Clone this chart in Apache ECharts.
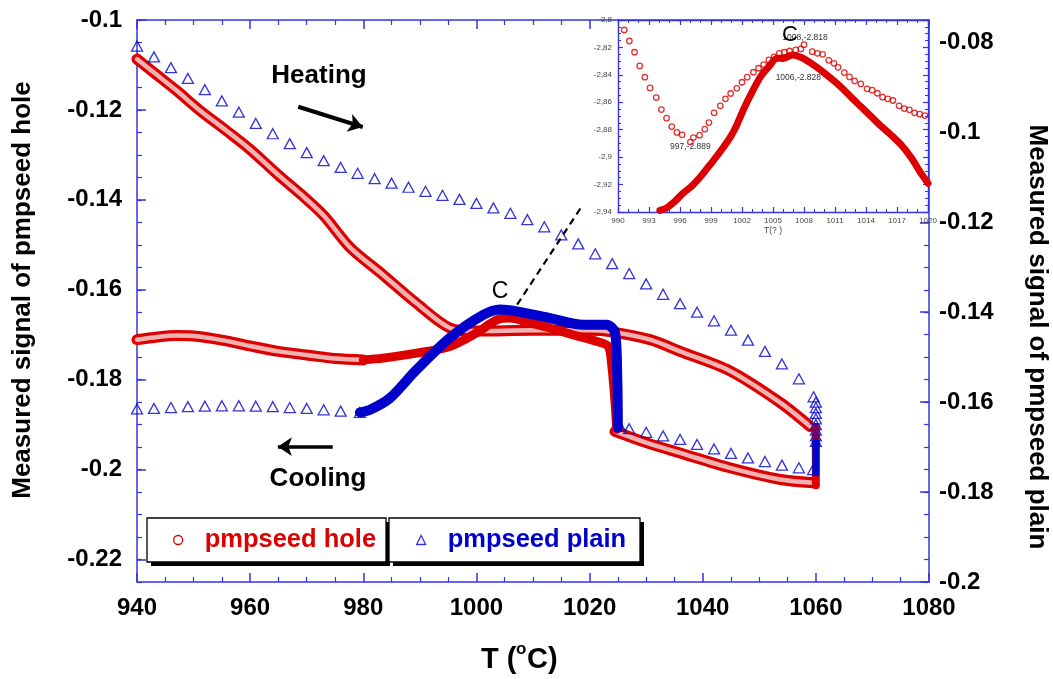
<!DOCTYPE html>
<html>
<head>
<meta charset="utf-8">
<title>pmpseed hole / pmpseed plain</title>
<script src="https://cdn.jsdelivr.net/npm/echarts@6/dist/echarts.min.js"></script>
<style>
  html, body { margin: 0; padding: 0; background: #fff; }
  #chart { width: 1053px; height: 679px; }
</style>
</head>
<body>
<div id="chart"></div>
<script>
// ---------- tick values ----------
const holeTicks  = [-0.22, -0.2, -0.18, -0.16, -0.14, -0.12, -0.1];
const plainTicks = [-0.2, -0.18, -0.16, -0.14, -0.12, -0.1, -0.08];

// ---------- pmpseed hole (left axis) ----------
// heating branch (open circles)
const holeHeatT = [940, 943, 947, 951, 956, 960, 965, 969, 973, 977.6, 983.5, 989.4, 995.3, 1000, 1010, 1020, 1023.6, 1030.7, 1036, 1044.9, 1053.7, 1059];
const holeHeatV = [-0.1087, -0.1117, -0.1157, -0.120, -0.1248, -0.1288, -0.1345, -0.1388, -0.1435, -0.1505, -0.1567, -0.1630, -0.1685, -0.1692, -0.1690, -0.1690, -0.1693, -0.1711, -0.1737, -0.1781, -0.1851, -0.1904];
// step at the top temperature
const holeEdgeT = [1060, 1060];
const holeEdgeV = [-0.1905, -0.2035];
// cooling, open circles 1060 -> 1025
const holeCoolHighT = [1059.5, 1053.7, 1044.8, 1036, 1030, 1024.5];
const holeCoolHighV = [-0.2029, -0.2022, -0.1996, -0.1963, -0.1940, -0.1915];
// cooling, dense run 1025 -> 980
const holeBandT = [1024.8, 1024.5, 1023.9, 1023.3, 1021.3, 1017, 1013, 1009, 1005.9, 1003.6, 1000, 995.3, 989.4, 983.5, 980];
const holeBandV = [-0.1910, -0.1850, -0.1765, -0.1726, -0.1715, -0.1700, -0.1685, -0.1672, -0.1663, -0.1667, -0.1696, -0.1726, -0.1741, -0.1752, -0.1756];
// cooling, open circles 980 -> 940
const holeCoolLowT = [980, 975, 970, 965, 960, 955, 950, 947, 943, 940];
const holeCoolLowV = [-0.1756, -0.1753, -0.1745, -0.1737, -0.1725, -0.1712, -0.1703, -0.1702, -0.1706, -0.1711];

// ---------- pmpseed plain (right axis) ----------
const plainHeatT = [940, 943, 946, 949, 952, 955, 958, 961, 964, 967, 970, 973, 976, 979, 982, 985, 988, 991, 994, 997, 1000, 1003, 1006, 1009, 1012, 1015, 1018, 1021, 1024, 1027, 1030, 1033, 1036, 1039, 1042, 1045, 1048, 1051, 1054, 1057, 1059.6];
const plainHeatV = [-0.0808, -0.0832, -0.0856, -0.0880, -0.0905, -0.0930, -0.0955, -0.0980, -0.1003, -0.1025, -0.1045, -0.1063, -0.1078, -0.1091, -0.1103, -0.1113, -0.1122, -0.1131, -0.1140, -0.1149, -0.1158, -0.1168, -0.1180, -0.1194, -0.1210, -0.1228, -0.1248, -0.1270, -0.1292, -0.1314, -0.1337, -0.1360, -0.1381, -0.1400, -0.1419, -0.1440, -0.1462, -0.1487, -0.1515, -0.1548, -0.1588];
const plainEdgeT = [1060, 1060, 1060, 1060, 1060, 1060, 1060, 1060];
const plainEdgeV = [-0.1600, -0.1612, -0.1625, -0.1637, -0.1650, -0.1662, -0.1675, -0.1687];
const plainEdgeRunT = [1060, 1060];
const plainEdgeRunV = [-0.1690, -0.1757];
const plainCoolHighT = [1059.5, 1057, 1054, 1051, 1048, 1045, 1042, 1039, 1036, 1033, 1030, 1027, 1025.4];
const plainCoolHighV = [-0.1750, -0.1746, -0.1740, -0.1732, -0.1724, -0.1714, -0.1704, -0.1694, -0.1683, -0.1675, -0.1667, -0.1659, -0.1654];
const plainBandT = [1025, 1024.9, 1024.5, 1023, 1018.9, 1013, 1007.1, 1004.2, 1001.2, 995.3, 989.4, 984.7, 981.2, 979.4];
const plainBandV = [-0.1657, -0.1550, -0.1445, -0.1428, -0.1428, -0.1413, -0.1398, -0.1394, -0.1406, -0.1457, -0.1528, -0.1591, -0.1617, -0.1623];
const plainCoolLowT = [979.4, 976, 973, 970, 967, 964, 961, 958, 955, 952, 949, 946, 943, 940];
const plainCoolLowV = [-0.1623, -0.1620, -0.1617, -0.1614, -0.1612, -0.1610, -0.1609, -0.1608, -0.1608, -0.1609, -0.1610, -0.1612, -0.1614, -0.1615];

// ---------- inset: region around C ----------
const insetOpenT = [990.6, 991.1, 991.6, 992.1, 992.6, 993.1, 993.7, 994.2, 994.7, 995.2, 995.7, 996.2, 997.0, 997.3, 997.9, 998.4, 998.8, 999.3, 999.9, 1000.4, 1000.9, 1001.5, 1002.0, 1002.5, 1003.1, 1003.6, 1004.1, 1004.6, 1005.1, 1005.6, 1006.1, 1006.6, 1007.2, 1007.7, 1008.0, 1008.8, 1009.3, 1009.8, 1010.4, 1010.9, 1011.3, 1011.9, 1012.4, 1012.9, 1013.5, 1014.1, 1014.6, 1015.1, 1015.6, 1016.1, 1016.6, 1017.2, 1017.7, 1018.2, 1018.7, 1019.2, 1019.7];
const insetOpenV = [-2.8073, -2.8153, -2.8235, -2.8335, -2.8417, -2.8495, -2.8566, -2.8653, -2.8716, -2.8777, -2.8820, -2.8837, -2.889, -2.8857, -2.8840, -2.8796, -2.8748, -2.8677, -2.8626, -2.8575, -2.8536, -2.8498, -2.8454, -2.8417, -2.8381, -2.8352, -2.8325, -2.8291, -2.8269, -2.8243, -2.8235, -2.8226, -2.8218, -2.8211, -2.818, -2.8231, -2.8243, -2.8250, -2.8294, -2.8316, -2.8345, -2.8383, -2.8415, -2.8444, -2.8466, -2.8502, -2.8512, -2.8534, -2.8563, -2.8575, -2.8587, -2.8626, -2.8646, -2.8655, -2.8677, -2.8687, -2.8697];
const insetBandT = [994.05, 994.7, 995.5, 996.3, 997.1, 998.0, 998.9, 999.9, 1000.9, 1001.5, 1002.2, 1003.0, 1003.8, 1004.6, 1005.4, 1006.0, 1006.9, 1007.7, 1008.7, 1009.6, 1010.6, 1011.6, 1012.5, 1013.5, 1014.5, 1015.5, 1016.4, 1017.4, 1018.4, 1019.2, 1020.0];
const insetBandV = [-2.9388, -2.9371, -2.9323, -2.9262, -2.9214, -2.9141, -2.9056, -2.8959, -2.8850, -2.8765, -2.8643, -2.8522, -2.8413, -2.8340, -2.8279, -2.828, -2.8255, -2.8272, -2.8316, -2.8364, -2.8425, -2.8490, -2.8558, -2.8631, -2.8704, -2.8777, -2.8837, -2.8910, -2.9007, -2.9104, -2.9190];
// annotated points [T, value]
const insetOpenMarks = [[997, -2.889], [1008, -2.818]];
const insetBandMarks = [[1006, -2.828]];

// ---------- styling ----------
const RED = '#dd0000';
const RED_CORE = '#f3b2b2';
const BLUE = '#0000cc';
const AXIS = '#3434e6';
const FONT = 'Arial, "Liberation Sans", sans-serif';

const zip = (xs, ys) => xs.map((x, i) => [x, ys[i]]);
const steps = (a, b, d) => { const out = []; for (let v = a; v <= b + 1e-9; v += d) out.push(+v.toFixed(4)); return out; };
const holeMinor = steps(-0.225, -0.1, 0.005);
const plainMinor = steps(-0.2, -0.075, 0.005);

const axisLine = { show: true, onZero: false, lineStyle: { color: AXIS, width: 1.5 } };
const majorTick = { show: true, inside: true, length: 9, lineStyle: { color: AXIS, width: 1.5 } };
const minorTickMain = { show: true, splitNumber: 4, length: 5, lineStyle: { color: AXIS, width: 1.2 } };
const bigLabel = { color: '#000', fontFamily: FONT, fontWeight: 'bold', fontSize: 24 };
const insetLabel = { color: '#444', fontFamily: FONT, fontSize: 8 };
const insetLine = { show: true, onZero: false, lineStyle: { color: AXIS, width: 1.4 } };
const plain = v => String(v);

function curve(name, xi, yi, xs, ys, color, width, z, smooth) {
  return {
    name, type: 'line', xAxisIndex: xi, yAxisIndex: yi, data: zip(xs, ys),
    smooth: smooth === undefined ? 0.3 : smooth, symbol: 'none', showSymbol: false,
    lineStyle: { color, width, cap: 'round', join: 'round' }, itemStyle: { color },
    z, silent: true
  };
}
function triangles(xs, ys) {
  return {
    name: 'pmpseed plain', type: 'scatter', xAxisIndex: 0, yAxisIndex: 1, data: zip(xs, ys),
    symbol: 'triangle', symbolSize: [11, 10],
    itemStyle: { color: 'rgba(255,255,255,0)', borderColor: BLUE, borderWidth: 1.3 },
    z: 2, silent: true
  };
}

const holeBandSeries = curve('pmpseed hole', 0, 0, holeBandT, holeBandV, RED, 9, 2, 0.3);
holeBandSeries.markLine = {
  silent: true, animation: false, label: { show: false },
  data: [
    [ { coord: [1007.2, -0.1633], symbol: 'none', lineStyle: { color: '#000', width: 2.2, type: [7, 5] } },
      { coord: [1018.8, -0.1411], symbol: 'none' } ],
    [ { coord: [968.5, -0.1193], symbol: 'none', lineStyle: { color: '#000', width: 4, type: 'solid' } },
      { coord: [979.9, -0.1238], symbol: 'arrow', symbolSize: 14 } ],
    [ { coord: [974.6, -0.1949], symbol: 'none', lineStyle: { color: '#000', width: 3.5, type: 'solid' } },
      { coord: [964.9, -0.1949], symbol: 'arrow', symbolSize: 14 } ]
  ]
};

const labelOf = p => p.data.coord[0] + ',' + p.data.coord[1];
const markLabel = { show: true, position: 'inside', formatter: labelOf, color: '#333', fontFamily: FONT, fontSize: 8.5 };

const series = [
  // pmpseed hole, open-circle runs drawn as a ring band
  curve('pmpseed hole', 0, 0, holeHeatT, holeHeatV, RED, 11, 2),
  curve('hole heating core', 0, 0, holeHeatT, holeHeatV, RED_CORE, 4.5, 2),
  curve('pmpseed hole', 0, 0, holeCoolHighT, holeCoolHighV, RED, 11, 2),
  curve('hole cooling core', 0, 0, holeCoolHighT, holeCoolHighV, RED_CORE, 4.5, 2),
  curve('pmpseed hole', 0, 0, holeCoolLowT, holeCoolLowV, RED, 11, 2),
  curve('hole cooling low core', 0, 0, holeCoolLowT, holeCoolLowV, RED_CORE, 4.5, 2),
  holeBandSeries,
  curve('pmpseed hole', 0, 0, holeEdgeT, holeEdgeV, RED, 8, 2, false),
  // pmpseed plain
  triangles(plainHeatT, plainHeatV),
  triangles(plainCoolHighT, plainCoolHighV),
  triangles(plainCoolLowT, plainCoolLowV),
  triangles(plainEdgeT, plainEdgeV),
  curve('pmpseed plain', 0, 1, plainEdgeRunT, plainEdgeRunV, BLUE, 7, 2, false),
  curve('pmpseed plain', 0, 1, plainBandT, plainBandV, BLUE, 10, 2, 0.3),
  // inset
  {
    name: 'inset open', type: 'scatter', xAxisIndex: 2, yAxisIndex: 2, data: zip(insetOpenT, insetOpenV),
    symbol: 'circle', symbolSize: 5.5,
    itemStyle: { color: 'rgba(255,255,255,0)', borderColor: RED, borderWidth: 1.3 },
    z: 13, silent: true,
    markPoint: {
      silent: true, symbol: 'circle', symbolSize: 1, z: 30, animation: false,
      itemStyle: { color: 'rgba(0,0,0,0)' }, label: markLabel,
      data: [
        { coord: insetOpenMarks[0], label: { offset: [0, 5] } },
        { coord: insetOpenMarks[1], label: { offset: [1, -7] } }
      ]
    }
  },
  Object.assign(curve('inset band', 2, 2, insetBandT, insetBandV, RED, 7, 13, 0.3), {
    markPoint: {
      silent: true, symbol: 'circle', symbolSize: 1, z: 30, animation: false,
      itemStyle: { color: 'rgba(0,0,0,0)' }, label: markLabel,
      data: [ { coord: insetBandMarks[0], label: { offset: [15, 19] } } ]
    }
  })
];

const boxStyle = { fill: '#fff', stroke: '#000', lineWidth: 1.3 };
const centered = { textAlign: 'center', textVerticalAlign: 'middle', align: 'center', verticalAlign: 'middle' };
const leftMid = { textAlign: 'left', textVerticalAlign: 'middle', align: 'left', verticalAlign: 'middle' };
const option = {
  animation: false,
  backgroundColor: '#fff',
  grid: [
    { left: 137, top: 20, width: 792, height: 562, show: false },
    { left: 618, top: 20, width: 310, height: 192, show: true, backgroundColor: '#fff', borderWidth: 0, z: 10 }
  ],
  xAxis: [
    { gridIndex: 0, type: 'value', position: 'bottom', min: 940, max: 1080, interval: 20,
      axisLine, axisTick: majorTick, minorTick: minorTickMain, splitLine: { show: false },
      axisLabel: Object.assign({ margin: 14, formatter: plain }, bigLabel) },
    { gridIndex: 0, type: 'value', position: 'top', min: 940, max: 1080, interval: 20,
      axisLine, axisTick: majorTick, minorTick: minorTickMain, splitLine: { show: false },
      axisLabel: { show: false } },
    { gridIndex: 1, type: 'value', position: 'bottom', min: 990, max: 1020, interval: 3, z: 12,
      axisLine: insetLine, axisTick: { show: true, inside: true, length: 5, lineStyle: { color: AXIS, width: 1.2 } },
      minorTick: { show: true, splitNumber: 3, length: 3, lineStyle: { color: AXIS, width: 1 } },
      splitLine: { show: false }, axisLabel: Object.assign({ margin: 5, formatter: plain }, insetLabel),
      name: 'T(? )', nameLocation: 'middle', nameGap: 13, nameTextStyle: { color: '#444', fontFamily: FONT, fontSize: 8.5 } },
    { gridIndex: 1, type: 'value', position: 'top', min: 990, max: 1020, interval: 3, z: 12,
      axisLine: insetLine, axisTick: { show: true, inside: true, length: 5, lineStyle: { color: AXIS, width: 1.2 } },
      minorTick: { show: true, splitNumber: 3, length: 3, lineStyle: { color: AXIS, width: 1 } },
      splitLine: { show: false }, axisLabel: { show: false } }
  ],
  yAxis: [
    { gridIndex: 0, type: 'value', position: 'left', min: -0.225, max: -0.1,
      axisLine, axisTick: Object.assign({ customValues: holeTicks }, majorTick), splitLine: { show: false },
      axisLabel: Object.assign({ margin: 15, customValues: holeTicks, formatter: v => String(+v.toFixed(3)) }, bigLabel) },
    { gridIndex: 0, type: 'value', position: 'right', min: -0.2, max: -0.075,
      axisLine, axisTick: Object.assign({ customValues: plainTicks }, majorTick), splitLine: { show: false },
      axisLabel: Object.assign({ margin: 10, customValues: plainTicks, formatter: v => String(+v.toFixed(3)) }, bigLabel) },
    { gridIndex: 1, type: 'value', position: 'left', min: -2.94, max: -2.8, interval: 0.02, z: 12,
      axisLine: insetLine, axisTick: { show: true, inside: true, length: 5, lineStyle: { color: AXIS, width: 1.2 } },
      minorTick: { show: true, splitNumber: 4, length: 3, lineStyle: { color: AXIS, width: 1 } },
      splitLine: { show: false },
      axisLabel: Object.assign({ margin: 6, formatter: v => String(+v.toFixed(2)).replace('.', ',') }, insetLabel) },
    { gridIndex: 1, type: 'value', position: 'right', min: -2.94, max: -2.8, interval: 0.02, z: 12,
      axisLine: insetLine, axisTick: { show: true, inside: true, length: 5, lineStyle: { color: AXIS, width: 1.2 } },
      minorTick: { show: true, splitNumber: 4, length: 3, lineStyle: { color: AXIS, width: 1 } },
      splitLine: { show: false }, axisLabel: { show: false } },
    // minor tick rows of the two main value axes
    { gridIndex: 0, type: 'value', position: 'left', min: -0.225, max: -0.1,
      axisLine: { show: false }, splitLine: { show: false }, axisLabel: { show: false },
      axisTick: { show: true, inside: true, length: 5, customValues: holeMinor, lineStyle: { color: AXIS, width: 1.2 } } },
    { gridIndex: 0, type: 'value', position: 'right', min: -0.2, max: -0.075,
      axisLine: { show: false }, splitLine: { show: false }, axisLabel: { show: false },
      axisTick: { show: true, inside: true, length: 5, customValues: plainMinor, lineStyle: { color: AXIS, width: 1.2 } } }
  ],
  legend: [
    { show: true, selectedMode: false, left: 147, top: 518, orient: 'horizontal', z: 20,
      padding: [9, 9, 9, 26], itemWidth: 9, itemHeight: 9, itemGap: 0,
      data: [{ name: 'pmpseed hole', icon: 'circle', itemStyle: { color: '#fff', borderColor: RED, borderWidth: 1.3 } }],
      textStyle: { color: RED, fontFamily: FONT, fontWeight: 'bold', fontSize: 25.5, padding: [0, 0, 0, 17] } },
    { show: true, selectedMode: false, left: 389, top: 518, orient: 'horizontal', z: 20,
      padding: [9, 12, 9, 27], itemWidth: 9, itemHeight: 9, itemGap: 0,
      data: [{ name: 'pmpseed plain', icon: 'triangle', itemStyle: { color: '#fff', borderColor: BLUE, borderWidth: 1.3 } }],
      textStyle: { color: BLUE, fontFamily: FONT, fontWeight: 'bold', fontSize: 25.5, padding: [0, 0, 0, 17] } }
  ],
  graphic: [
    // legend frames with drop shadow
    { type: 'rect', z: 15, silent: true, shape: { x: 151, y: 522, width: 239, height: 44 }, style: { fill: '#000' } },
    { type: 'rect', z: 15, silent: true, shape: { x: 147, y: 518, width: 239, height: 44 }, style: boxStyle },
    { type: 'rect', z: 15, silent: true, shape: { x: 393, y: 522, width: 251, height: 44 }, style: { fill: '#000' } },
    { type: 'rect', z: 15, silent: true, shape: { x: 389, y: 518, width: 251, height: 44 }, style: boxStyle },
    // axis titles
    { type: 'text', x: 23, y: 290, rotation: Math.PI / 2, silent: true,
      style: Object.assign({ text: 'Measured signal of pmpseed hole', font: 'bold 26px ' + FONT, fill: '#000' }, centered) },
    { type: 'text', x: 1037, y: 337, rotation: -Math.PI / 2, silent: true,
      style: Object.assign({ text: 'Measured signal of pmpseed plain', font: 'bold 26px ' + FONT, fill: '#000' }, centered) },
    { type: 'text', x: 481, y: 660, silent: true,
      style: Object.assign({ text: 'T (', font: 'bold 29px ' + FONT, fill: '#000' }, leftMid) },
    { type: 'text', x: 516, y: 649, silent: true,
      style: Object.assign({ text: 'o', font: 'bold 17px ' + FONT, fill: '#000' }, leftMid) },
    { type: 'text', x: 527, y: 660, silent: true,
      style: Object.assign({ text: 'C)', font: 'bold 29px ' + FONT, fill: '#000' }, leftMid) },
    // annotations
    { type: 'text', x: 319, y: 76, silent: true,
      style: Object.assign({ text: 'Heating', font: 'bold 26px ' + FONT, fill: '#000' }, centered) },
    { type: 'text', x: 318, y: 479, silent: true,
      style: Object.assign({ text: 'Cooling', font: 'bold 26px ' + FONT, fill: '#000' }, centered) },
    { type: 'text', x: 500, y: 292, silent: true,
      style: Object.assign({ text: 'C', font: '23px ' + FONT, fill: '#000' }, centered) },
    { type: 'text', x: 790, y: 35, z: 100, silent: true,
      style: Object.assign({ text: 'C', font: '22px ' + FONT, fill: '#000' }, centered) }
  ],
  series
};

const chart = echarts.init(document.getElementById('chart'), null, { renderer: 'canvas' });
chart.setOption(option);
</script>
</body>
</html>
